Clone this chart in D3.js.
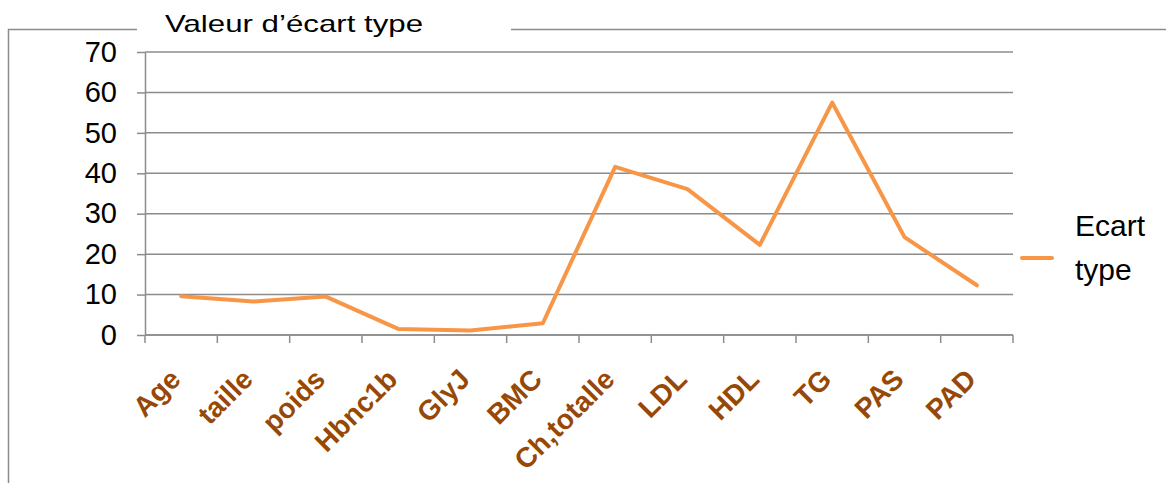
<!DOCTYPE html>
<html>
<head>
<meta charset="utf-8">
<script src="https://cdn.jsdelivr.net/npm/d3@7"></script>
<style>
  body { margin: 0; background: #fff; }
  svg { display: block; font-family: "Liberation Sans", Arial, sans-serif; }
</style>
</head>
<body>
<div id="chart"></div>
<script>
// data
const categories = ["Age", "taille", "poids", "Hbnc1b", "GlyJ", "BMC", "Ch,totalle", "LDL", "HDL", "TG", "PAS", "PAD"];
const ecartType = [9.6, 8.3, 9.5, 1.5, 1.1, 2.9, 41.6, 36.1, 22.3, 57.5, 24.2, 12.3];
const yTicks = [0, 10, 20, 30, 40, 50, 60, 70];
const title = "Valeur d\u2019écart type";
const legendLines = ["Ecart", "type"];

const width = 1166, height = 483;
const margin = {top: 52, right: 153, bottom: 148, left: 145};
const innerW = width - margin.left - margin.right;
const innerH = height - margin.top - margin.bottom;

const svg = d3.select("#chart").append("svg")
    .attr("width", width)
    .attr("height", height);

// outer chart frame (cut off by the picture edges)
svg.append("rect")
    .attr("x", 8.5).attr("y", 29.5)
    .attr("width", 1400).attr("height", 600)
    .attr("fill", "none")
    .attr("stroke", "#8c8c8c")
    .attr("stroke-width", 1.5);

// gap in the frame behind the title
svg.append("rect")
    .attr("x", 137).attr("y", 20)
    .attr("width", 374).attr("height", 20)
    .attr("fill", "#fff");

// the title is drawn a little wider than its natural width
svg.append("text")
    .attr("x", 165).attr("y", 32)
    .attr("font-size", 24)
    .attr("textLength", 258)
    .attr("lengthAdjust", "spacingAndGlyphs")
    .attr("fill", "#000")
    .text(title);

const chart = svg.append("g")
    .attr("transform", `translate(${margin.left},${margin.top})`);

const xScale = d3.scaleBand()
    .domain(categories)
    .range([0, innerW]);

const yScale = d3.scaleLinear()
    .domain([0, 70])
    .range([innerH, 0]);

// gridlines
chart.append("g")
    .selectAll("line")
    .data(yTicks)
    .join("line")
        .attr("x1", 0).attr("x2", innerW)
        .attr("y1", d => yScale(d)).attr("y2", d => yScale(d))
        .attr("stroke", "#8c8c8c")
        .attr("stroke-width", 1.5);

// y axis
const yAxisG = chart.append("g")
    .call(d3.axisLeft(yScale).tickValues(yTicks).tickSize(8).tickPadding(20).tickSizeOuter(0));
yAxisG.select(".domain").attr("stroke", "#8c8c8c").attr("stroke-width", 1.5);
yAxisG.selectAll(".tick line").attr("stroke", "#8c8c8c").attr("stroke-width", 1.5);
yAxisG.selectAll(".tick text")
    .attr("font-size", 29)
    .attr("font-family", "Liberation Sans, Arial, sans-serif")
    .attr("fill", "#000");

// x axis: ticks on the category boundaries
const xAxisG = chart.append("g")
    .attr("transform", `translate(0,${innerH})`);
xAxisG.append("line")
    .attr("x1", 0).attr("x2", innerW)
    .attr("stroke", "#8c8c8c").attr("stroke-width", 1.5);
const boundaries = categories.map(c => xScale(c)).concat([innerW]);
xAxisG.selectAll(".xtick")
    .data(boundaries)
    .join("line")
        .attr("class", "xtick")
        .attr("x1", d => d).attr("x2", d => d)
        .attr("y1", 0).attr("y2", 8)
        .attr("stroke", "#8c8c8c").attr("stroke-width", 1.5);

xAxisG.selectAll(".xlabel")
    .data(categories)
    .join("text")
        .attr("class", "xlabel")
        .attr("text-anchor", "end")
        .attr("font-size", 28)
        .attr("font-weight", "bold")
        .attr("fill", "#974806")
        .attr("transform", d => `translate(${xScale(d) + xScale.bandwidth() / 2 + 1},${46}) rotate(-45)`)
        .text(d => d);

// line
const line = d3.line()
    .x((d, i) => xScale(categories[i]) + xScale.bandwidth() / 2)
    .y(d => yScale(d));

chart.append("path")
    .datum(ecartType)
    .attr("fill", "none")
    .attr("stroke", "#F79646")
    .attr("stroke-width", 4)
    .attr("stroke-linejoin", "round")
    .attr("stroke-linecap", "round")
    .attr("d", line);

// legend
const legend = svg.append("g")
    .attr("transform", "translate(1022,258)");
legend.append("line")
    .attr("x1", 0).attr("x2", 30)
    .attr("stroke", "#F79646")
    .attr("stroke-width", 4)
    .attr("stroke-linecap", "round");
legend.selectAll("text")
    .data(legendLines)
    .join("text")
        .attr("x", 53)
        .attr("y", (d, i) => -22 + i * 44)
        .attr("font-size", 30)
        .attr("fill", "#000")
        .text(d => d);
</script>
</body>
</html>
